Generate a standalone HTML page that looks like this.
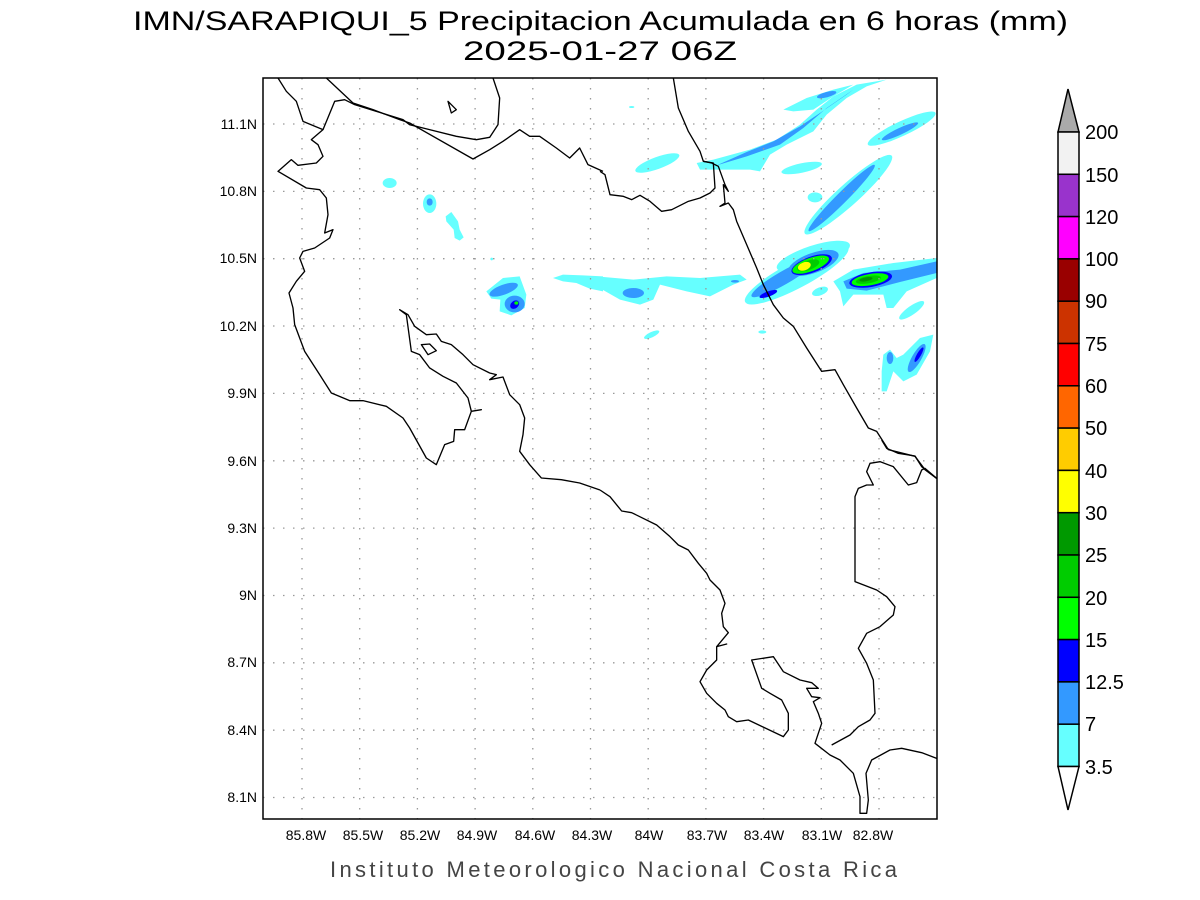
<!DOCTYPE html>
<html><head><meta charset="utf-8"><style>
body{margin:0;background:#fff}
svg{display:block}
text{font-family:"Liberation Sans",sans-serif}
</style></head><body>
<svg width="1200" height="900" xmlns="http://www.w3.org/2000/svg">
<rect width="1200" height="900" fill="#fff"/>
<text x="133" y="30" font-size="27" textLength="935" lengthAdjust="spacingAndGlyphs" fill="#000">IMN/SARAPIQUI_5 Precipitacion Acumulada en 6 horas (mm)</text>
<text x="463" y="60" font-size="27" textLength="274" lengthAdjust="spacingAndGlyphs" fill="#000">2025-01-27 06Z</text>

<defs><clipPath id="c"><rect x="263" y="78" width="674" height="741"/></clipPath></defs>
<g clip-path="url(#c)">
<g transform="translate(600,78) scale(0.33333)">
<path d="M290,255 L340,245 450,215 530,185 600,140 650,95 700,55 770,20 860,5 800,25 740,60 680,110 640,160 560,200 510,230 480,280 450,275 380,275 300,275Z" fill="#66ffff"/>
<path d="M550,95 L620,60 700,35 760,20 700,55 640,95 580,100Z" fill="#66ffff"/>
<path d="M340,265 L440,235 540,200 610,150 680,90 760,35 740,50 660,105 600,145 520,190 440,222 350,262Z" fill="#3399ff"/>
<ellipse cx="680" cy="50" rx="30" ry="8" transform="rotate(-15 680 50)" fill="#3399ff"/>
<ellipse cx="172" cy="255" rx="70" ry="18" transform="rotate(-20 172 255)" fill="#66ffff"/>
<ellipse cx="605" cy="270" rx="62" ry="14" transform="rotate(-12 605 270)" fill="#66ffff"/>
<ellipse cx="905" cy="152" rx="112" ry="22" transform="rotate(-25 905 152)" fill="#66ffff"/>
<ellipse cx="900" cy="160" rx="60" ry="10" transform="rotate(-25 900 160)" fill="#3399ff"/>
<ellipse cx="745" cy="350" rx="175" ry="32" transform="rotate(-42 745 350)" fill="#66ffff"/>
<ellipse cx="725" cy="360" rx="140" ry="16" transform="rotate(-45 725 360)" fill="#3399ff"/>
<ellipse cx="645" cy="358" rx="22" ry="15" fill="#66ffff"/>
<ellipse cx="590" cy="590" rx="175" ry="40" transform="rotate(-28 590 590)" fill="#66ffff"/>
<ellipse cx="640" cy="535" rx="115" ry="32" transform="rotate(-18 640 535)" fill="#66ffff"/>
<ellipse cx="550" cy="600" rx="110" ry="20" transform="rotate(-30 550 600)" fill="#3399ff"/>
<ellipse cx="640" cy="555" rx="80" ry="30" transform="rotate(-20 640 555)" fill="#3399ff"/>
<ellipse cx="635" cy="560" rx="64" ry="24" transform="rotate(-20 635 560)" fill="#0000ff"/>
<ellipse cx="632" cy="560" rx="58" ry="20" transform="rotate(-20 632 560)" fill="#00ff00"/>
<ellipse cx="625" cy="562" rx="35" ry="14" transform="rotate(-20 625 562)" fill="#00cc00"/>
<ellipse cx="613" cy="565" rx="20" ry="12" transform="rotate(-20 613 565)" fill="#ffff00"/>
<ellipse cx="505" cy="648" rx="28" ry="8" transform="rotate(-20 505 648)" fill="#0000ff"/>
<path d="M700,610 L760,575 880,555 1010,540 1010,600 920,640 880,690 860,690 850,650 760,650 730,685 720,640Z" fill="#66ffff"/>
<ellipse cx="660" cy="640" rx="25" ry="12" transform="rotate(-20 660 640)" fill="#66ffff"/>
<path d="M730,610 L790,585 900,575 1010,550 1010,585 900,612 800,638 740,632Z" fill="#3399ff"/>
<ellipse cx="812" cy="605" rx="65" ry="22" transform="rotate(-10 812 605)" fill="#0000ff"/>
<ellipse cx="810" cy="605" rx="56" ry="17" transform="rotate(-10 810 605)" fill="#00ff00"/>
<ellipse cx="805" cy="605" rx="38" ry="11" transform="rotate(-10 805 605)" fill="#00cc00"/>
<ellipse cx="798" cy="604" rx="20" ry="6" transform="rotate(-10 798 604)" fill="#009900"/>
<ellipse cx="935" cy="697" rx="45" ry="13" transform="rotate(-35 935 697)" fill="#66ffff"/>
<path d="M850,830 L870,815 890,840 910,830 960,780 1000,770 990,820 950,890 910,910 880,880 860,940 845,940 845,880Z" fill="#66ffff"/>
<ellipse cx="950" cy="840" rx="14" ry="48" transform="rotate(30 950 840)" fill="#3399ff"/>
<ellipse cx="957" cy="830" rx="6" ry="25" transform="rotate(30 957 830)" fill="#0000ff"/>
<ellipse cx="870" cy="840" rx="10" ry="18" fill="#3399ff"/>
<ellipse cx="155" cy="770" rx="25" ry="8" transform="rotate(-25 155 770)" fill="#66ffff"/>
<ellipse cx="487" cy="762" rx="12" ry="5" fill="#66ffff"/>
<ellipse cx="95" cy="87" rx="8" ry="3" fill="#66ffff"/>
<path d="M-10,595 L100,605 200,595 300,600 420,590 440,605 400,620 330,655 260,640 180,620 160,665 120,680 60,665 -10,625Z" fill="#66ffff"/>
<ellipse cx="100" cy="645" rx="32" ry="15" fill="#3399ff"/>
<ellipse cx="405" cy="610" rx="12" ry="4" fill="#3399ff"/>
</g>
<g transform="translate(263,78) scale(0.33333)">
<path d="M870,600 L900,590 960,592 1020,595 1020,640 980,632 940,615 900,610Z" fill="#66ffff"/>
<ellipse cx="380" cy="315" rx="21" ry="15" fill="#66ffff"/>
<ellipse cx="500" cy="377" rx="20" ry="28" fill="#66ffff"/>
<ellipse cx="500" cy="372" rx="9" ry="11" fill="#3399ff"/>
<path d="M548,415 L565,402 585,430 590,455 602,478 590,488 575,480 572,455 550,430Z" fill="#66ffff"/>
<ellipse cx="686" cy="543" rx="4" ry="4" fill="#66ffff"/>
<path d="M670,640 L720,600 770,595 790,650 785,690 745,712 710,700 712,665 685,662Z" fill="#66ffff"/>
<ellipse cx="722" cy="635" rx="45" ry="15" transform="rotate(-20 722 635)" fill="#3399ff"/>
<ellipse cx="755" cy="678" rx="30" ry="25" fill="#3399ff"/>
<ellipse cx="755" cy="680" rx="15" ry="11" transform="rotate(-40 755 680)" fill="#0000ff"/>
<ellipse cx="760" cy="675" rx="6" ry="5" fill="#00ff00"/>
</g>
</g>

<g stroke="#999" stroke-width="1.3" stroke-dasharray="1.5,8.5">
<path d="M302,78V819M359.7,78V819M417.4,78V819M475.1,78V819M532.8,78V819M590.5,78V819M648.2,78V819M705.9,78V819M763.6,78V819M821.3,78V819M879,78V819"/>
<path d="M263,124H937M263,191.4H937M263,258.7H937M263,326H937M263,393.4H937M263,460.8H937M263,528.1H937M263,595.5H937M263,662.8H937M263,730.2H937M263,797.5H937"/>
</g>

<g clip-path="url(#c)" fill="none" stroke="#000" stroke-width="4" stroke-linejoin="round">
<g transform="translate(263,78) scale(0.33333)">
<path d="M45,0 L70,40 100,70 120,130 180,155 145,185 165,200 180,235 160,255 105,262 85,245 45,280 130,330 170,335 190,360 195,410 185,465 210,455 200,480 155,510 120,520 110,540 125,580 100,610 78,645 90,690 95,740 125,820 170,890 205,945 260,968 300,968 370,985 420,1020 440,1050 490,1140 520,1160 545,1100 572,1090 575,1055 605,1055 625,1000 655,995 625,1000 615,960 580,915 540,895 500,870 470,830 445,820 430,710 410,695 435,710 455,745 490,770 520,768 535,790 565,800 600,830 630,860 680,885 700,890 680,905 720,897 740,950 770,980 785,1020 780,1070 770,1120 800,1160 835,1200 895,1205 950,1215 1011,1236"/>
<path d="M475,800 L500,798 520,818 495,830Z"/>
<path d="M190,0 L270,75 330,95 410,125 440,135 630,243 680,215 720,190 770,155 800,175 830,175 880,210 920,240 950,210 975,260 1020,280"/>
<path d="M180,155 L215,70 245,65 275,80 340,100 420,125 440,140 480,150 580,175 640,185 680,178 705,140 710,60 690,0"/>
<path d="M555,70 L565,105 580,95Z"/>
</g>
<g transform="translate(600,78) scale(0.33333)">
<path d="M0,280 L15,290 30,350 70,355 95,365 120,352 150,370 185,400 215,395 265,370 300,360 330,345 345,330 340,255 310,250"/>
<path d="M220,0 L235,90 265,160 300,220 310,250 335,255 355,265 375,320 385,340 370,320 375,375 360,385 385,375 400,395 410,430 440,500 470,570 490,620 520,680 550,720 580,745 620,810 665,880 705,875 730,920 770,990 805,1050 830,1060 865,1115 945,1135 975,1175 1015,1205"/>
</g>
<g transform="translate(600,440) scale(0.33333)">
<path d="M0,150 L30,170 65,213 95,218 170,255 210,290 235,315 265,330 295,370 320,400 330,420 360,450 375,490 365,520 370,560 385,578 350,620 380,612 350,620 350,660 320,690 300,725 320,760 350,790 375,810 385,830 410,845 445,840 550,890 565,870 565,820 545,780 510,760 485,745 455,660 520,650 550,695 600,720 635,728 655,745 620,745 635,770 660,773 640,785 655,820 665,850 645,910 690,945 720,960 760,1000 780,1070 780,1120 800,1120 805,1080 798,1000 815,960 870,930 905,925 965,938 1010,955"/>
<path d="M695,915 L750,885 775,860 810,840 825,820 820,720 800,670 775,625 800,580 840,560 880,525 885,500 860,470 830,450 765,425 765,170 775,145 800,135 820,135 800,95 810,70 840,65 880,80 925,135 950,128 965,90 975,85 1010,115"/>
<path d="M845,0 L860,25 895,40 945,48 965,80 1010,115"/>
</g>
</g>

<rect x="263" y="78" width="674" height="741" fill="none" stroke="#000" stroke-width="1.5"/>

<g font-size="14" fill="#000" text-anchor="end">
<text x="257" y="129">11.1N</text><text x="257" y="196">10.8N</text><text x="257" y="263">10.5N</text><text x="257" y="331">10.2N</text><text x="257" y="398">9.9N</text><text x="257" y="466">9.6N</text><text x="257" y="533">9.3N</text><text x="257" y="600">9N</text><text x="257" y="667">8.7N</text><text x="257" y="735">8.4N</text><text x="257" y="802">8.1N</text>
</g>
<g font-size="14" fill="#000" text-anchor="middle">
<text x="306" y="840">85.8W</text><text x="363" y="840">85.5W</text><text x="420" y="840">85.2W</text><text x="477" y="840">84.9W</text><text x="535" y="840">84.6W</text><text x="592" y="840">84.3W</text><text x="649" y="840">84W</text><text x="707" y="840">83.7W</text><text x="764" y="840">83.4W</text><text x="822" y="840">83.1W</text><text x="873" y="840">82.8W</text>
</g>
<text x="330" y="877" font-size="22" textLength="567" lengthAdjust="spacing" fill="#444">Instituto Meteorologico Nacional Costa Rica</text>

<g stroke="#000" stroke-width="1.5">
<path d="M1058,132 L1068,89 L1079,132Z" fill="#aaaaaa"/>
<rect x="1058" y="132" width="21" height="42.3" fill="#f2f2f2"/>
<rect x="1058" y="174.3" width="21" height="42.3" fill="#9933cc"/>
<rect x="1058" y="216.6" width="21" height="42.3" fill="#ff00ff"/>
<rect x="1058" y="258.9" width="21" height="42.3" fill="#990000"/>
<rect x="1058" y="301.2" width="21" height="42.3" fill="#cc3300"/>
<rect x="1058" y="343.5" width="21" height="42.3" fill="#ff0000"/>
<rect x="1058" y="385.8" width="21" height="42.3" fill="#ff6600"/>
<rect x="1058" y="428.1" width="21" height="42.3" fill="#ffcc00"/>
<rect x="1058" y="470.4" width="21" height="42.3" fill="#ffff00"/>
<rect x="1058" y="512.7" width="21" height="42.3" fill="#009900"/>
<rect x="1058" y="555" width="21" height="42.3" fill="#00cc00"/>
<rect x="1058" y="597.3" width="21" height="42.3" fill="#00ff00"/>
<rect x="1058" y="639.6" width="21" height="42.3" fill="#0000ff"/>
<rect x="1058" y="681.9" width="21" height="42.3" fill="#3399ff"/>
<rect x="1058" y="724.2" width="21" height="42.3" fill="#66ffff"/>
<path d="M1058,766.5 L1068,810 L1079,766.5Z" fill="#fff"/>
</g>
<g font-size="20" fill="#000">
<text x="1085" y="139">200</text><text x="1085" y="182">150</text><text x="1085" y="224">120</text><text x="1085" y="266">100</text><text x="1085" y="308">90</text><text x="1085" y="351">75</text><text x="1085" y="393">60</text><text x="1085" y="435">50</text><text x="1085" y="478">40</text><text x="1085" y="520">30</text><text x="1085" y="562">25</text><text x="1085" y="605">20</text><text x="1085" y="647">15</text><text x="1085" y="689">12.5</text><text x="1085" y="731">7</text><text x="1085" y="774">3.5</text>
</g>
</svg>
</body></html>
